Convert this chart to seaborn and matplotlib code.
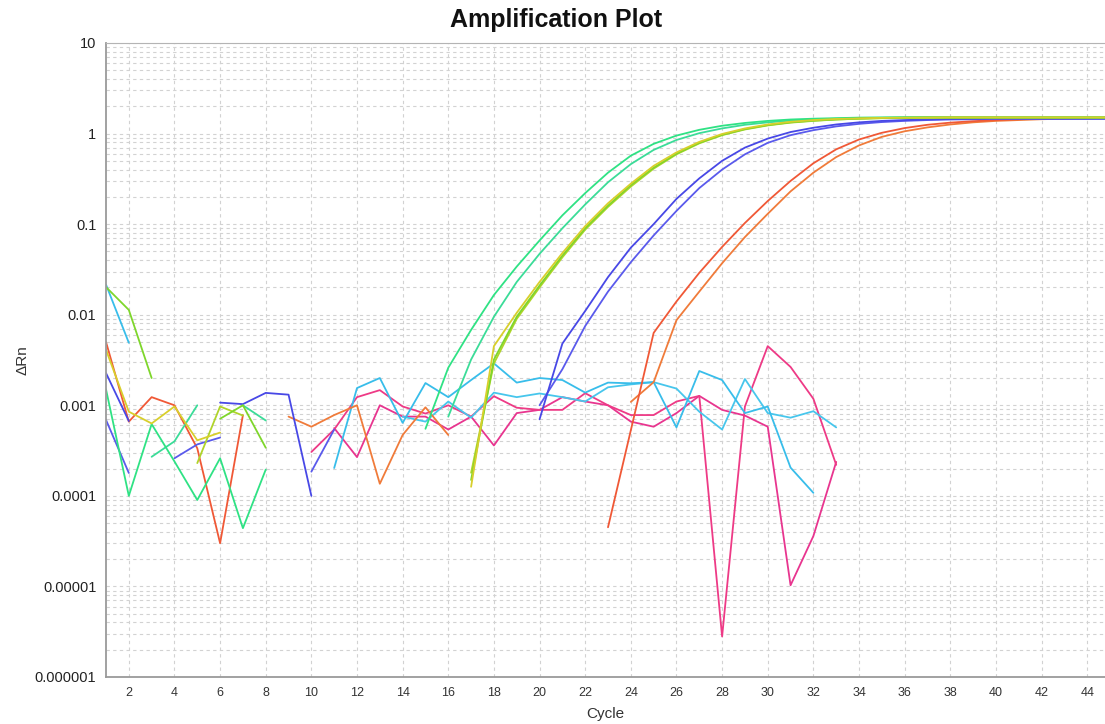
"""
qPCR amplification plot (ΔRn vs cycle, log scale)
"""

import matplotlib
matplotlib.use('Agg')
import matplotlib.pyplot as plt
import seaborn as sns
import numpy as np
import pandas as pd
from matplotlib.ticker import FixedLocator, FuncFormatter, NullFormatter

N = None  # gap (negative ΔRn, not drawn on a log axis)
cycles = list(range(1, 46))
x_ticks = list(range(2, 45, 2))
y_ticks = [1e-6, 1e-5, 1e-4, 1e-3, 1e-2, 1e-1, 1, 10]

# ---- per-well ΔRn, cycles 1..45 ----
sg1 = [0.0015, 0.0001, 0.00062, 0.00024, 0.00009, 0.00026, 0.000044, 0.000195, N, N,
       N, N, N, N, 0.00055, 0.0026, 0.0068, 0.0165, 0.034, 0.066,
       0.125, 0.22, 0.37, 0.57, 0.77, 0.95, 1.1, 1.22, 1.31, 1.38,
       1.43, 1.46, 1.48, 1.5, 1.51, 1.52, 1.52, 1.52, 1.52, 1.52,
       1.52, 1.52, 1.52, 1.52, 1.52]
sg2 = [N, N, 0.00027, 0.0004, 0.001, N, 0.001, 0.00068, N, N,
       N, N, N, N, N, 0.00075, 0.0032, 0.0095, 0.023, 0.047,
       0.09, 0.165, 0.29, 0.46, 0.66, 0.85, 1.01, 1.14, 1.25, 1.33,
       1.39, 1.43, 1.46, 1.48, 1.49, 1.5, 1.5, 1.5, 1.5, 1.5,
       1.5, 1.5, 1.5, 1.5, 1.5]
lime = [0.0202, 0.0113, 0.002, N, N, 0.00071, 0.001, 0.00034, N, N,
        N, N, N, N, N, N, 0.00015, 0.0032, 0.0095, 0.021,
        0.045, 0.09, 0.16, 0.27, 0.42, 0.6, 0.79, 0.97, 1.12, 1.24,
        1.33, 1.39, 1.43, 1.46, 1.48, 1.49, 1.5, 1.5, 1.5, 1.5,
        1.5, 1.5, 1.5, 1.5, 1.5]
yellow = [0.0041, 0.00085, 0.00063, 0.00097, 0.00041, 0.0005, N, N, N, N,
          N, N, N, N, N, N, 0.000126, 0.0045, 0.0105, 0.023,
          0.048, 0.095, 0.17, 0.28, 0.44, 0.62, 0.81, 0.99, 1.14, 1.26,
          1.35, 1.41, 1.45, 1.47, 1.49, 1.5, 1.5, 1.51, 1.51, 1.51,
          1.51, 1.51, 1.51, 1.51, 1.51]
ygreen = [N, N, N, N, 0.00023, 0.00097, 0.00077, N, N, N,
          N, N, N, N, N, N, 0.00018, 0.0029, 0.009, 0.02,
          0.043, 0.087, 0.155, 0.26, 0.41, 0.59, 0.78, 0.96, 1.11, 1.23,
          1.32, 1.38, 1.43, 1.46, 1.48, 1.49, 1.5, 1.5, 1.5, 1.5,
          1.5, 1.5, 1.5, 1.5, 1.5]
blue1 = [0.00227, 0.00067, N, N, N, 0.00107, 0.00103, 0.00137, 0.00131, 0.0001,
         N, N, N, N, N, N, N, N, N, 0.0007,
         0.0048, 0.011, 0.026, 0.055, 0.1, 0.19, 0.32, 0.5, 0.7, 0.88,
         1.04, 1.16, 1.26, 1.33, 1.38, 1.41, 1.43, 1.45, 1.46, 1.47,
         1.47, 1.47, 1.47, 1.47, 1.47]
blue2 = [0.00069, 0.000179, N, 0.00026, 0.00037, 0.00044, N, N, N, 0.000185,
         0.00054, N, N, N, N, N, N, N, N, 0.001,
         0.0025, 0.0075, 0.018, 0.038, 0.075, 0.14, 0.25, 0.4, 0.59, 0.79,
         0.96, 1.09, 1.2, 1.28, 1.34, 1.38, 1.41, 1.43, 1.44, 1.45,
         1.45, 1.45, 1.45, 1.45, 1.45]
red = [0.005, 0.00066, 0.00123, 0.001, 0.000335, 0.00003, 0.00078, N, N, N,
       N, N, N, N, N, N, N, N, N, N,
       N, N, 0.000045, 0.00053, 0.0063, 0.014, 0.029, 0.056, 0.103, 0.18,
       0.3, 0.47, 0.67, 0.86, 1.02, 1.15, 1.25, 1.32, 1.37, 1.41,
       1.44, 1.46, 1.47, 1.48, 1.49]
orange = [N, N, N, N, N, N, N, N, 0.00075, 0.00058,
          0.00078, 0.001, 0.000136, 0.00047, 0.00095, 0.00047, N, N, N, N,
          N, N, N, 0.00109, 0.0018, 0.0087, 0.018, 0.037, 0.072, 0.13,
          0.23, 0.37, 0.55, 0.74, 0.92, 1.06, 1.17, 1.26, 1.33, 1.38,
          1.41, 1.44, 1.46, 1.47, 1.48]
cyan1 = [0.0215, 0.0049, N, N, N, N, N, N, N, N,
         0.000203, 0.00155, 0.002, 0.00064, 0.00176, 0.00123, 0.0019, 0.0029, 0.00178, 0.002,
         0.0019, 0.00138, 0.00178, 0.00175, 0.0018, 0.00057, 0.00239, 0.0019, 0.00082, 0.00097,
         0.000205, 0.000108, N, N, N, N, N, N, N, N,
         N, N, N, N, N]
cyan2 = [N, N, N, N, N, N, N, N, N, N,
         N, N, N, 0.00075, 0.00066, 0.0011, 0.00073, 0.00138, 0.00123, 0.00135,
         0.00123, 0.0011, 0.00158, 0.0017, 0.0018, 0.00153, 0.00085, 0.00054, 0.00195, 0.00082,
         0.00073, 0.00086, 0.00057, N, N, N, N, N, N, N,
         N, N, N, N, N]
pink1 = [N, N, N, N, N, N, N, N, N, 0.000305,
         0.00054, 0.00123, 0.00147, 0.00097, 0.00081, 0.001, 0.00075, 0.00126, 0.00094, 0.00089,
         0.00089, 0.00136, 0.001, 0.00078, 0.00078, 0.0011, 0.00127, 0.0000028, 0.00097, 0.0045,
         0.00265, 0.00118, 0.00022, N, N, N, N, N, N, N,
         N, N, N, N, N]
pink2 = [N, N, N, N, N, N, N, N, N, N,
         0.00056, 0.000268, 0.001, 0.00075, 0.00075, 0.00054, 0.00075, 0.00036, 0.00082, 0.00089,
         0.00123, 0.0011, 0.001, 0.00066, 0.00058, 0.00082, 0.00127, 0.00089, 0.00077, 0.00058,
         0.0000103, 0.000036, 0.000237, N, N, N, N, N, N, N,
         N, N, N, N, N]

wells = {
    'A1': pink2, 'A2': pink1, 'A3': cyan2, 'A4': cyan1,
    'B1': orange, 'B2': red, 'B3': blue2, 'B4': blue1,
    'C1': sg2, 'C2': sg1, 'C3': ygreen, 'C4': lime, 'C5': yellow,
}
well_colors = {
    'A1': '#e8358f', 'A2': '#ee3a86', 'A3': '#47c6ec', 'A4': '#38bdea',
    'B1': '#f07b3a', 'B2': '#f05836', 'B3': '#5a5aec', 'B4': '#4848e6',
    'C1': '#3bdc98', 'C2': '#2fe284', 'C3': '#b0d42a', 'C4': '#7ed62b', 'C5': '#d8cf2c',
}

# 把每个孔拆成连续片段，断点处不连线
rows = []
for well, vals in wells.items():
    seg, inside = 0, False
    for c, v in zip(cycles, vals):
        if v is None:
            inside = False
            continue
        if not inside:
            seg += 1
            inside = True
        rows.append((well, f'{well}_{seg}', c, v))
df = pd.DataFrame(rows, columns=['well', 'seg', 'cycle', 'drn'])

sns.set_style('white')
plt.rcParams['font.family'] = ['Liberation Sans', 'DejaVu Sans']

fig = plt.figure(figsize=(11.05, 7.24), dpi=100)
ax = fig.add_axes([106 / 1105, 47 / 724, 999 / 1105, 634 / 724])
ax.set_yscale('log')

sns.lineplot(data=df, x='cycle', y='drn', hue='well', units='seg', estimator=None,
             palette=well_colors, legend=False, linewidth=1.3, sort=False, ax=ax)

ax.set_xlim(1, 44.78)
ax.set_ylim(1e-6, 10)
ax.xaxis.set_major_locator(FixedLocator(x_ticks))
ax.yaxis.set_major_locator(FixedLocator(y_ticks))
minor_y = [m * d for d in y_ticks[:-1] for m in range(2, 10)]
ax.yaxis.set_minor_locator(FixedLocator(minor_y))
ax.yaxis.set_minor_formatter(NullFormatter())
ax.yaxis.set_major_formatter(FuncFormatter(lambda v, p: np.format_float_positional(v, trim='-')))

grid_kw = dict(color='#d2d2d2', linestyle=(0, (3, 3)), linewidth=0.8)
ax.grid(which='major', axis='both', **grid_kw)
ax.grid(which='minor', axis='y', **grid_kw)
ax.set_axisbelow(True)

for side in ['left', 'bottom']:
    ax.spines[side].set_color('#9a9a9a')
    ax.spines[side].set_linewidth(1.3)
ax.spines['top'].set_color('#b4b4b4')
ax.spines['top'].set_linewidth(0.8)
ax.spines['right'].set_visible(False)

ax.tick_params(axis='y', which='major', length=4, width=1, color='#9a9a9a',
               labelsize=10.5, labelcolor='#222222', pad=3)
ax.tick_params(axis='y', which='minor', length=0)
ax.tick_params(axis='x', which='major', length=2, width=1, color='#9a9a9a',
               labelsize=9, labelcolor='#333333', pad=5)

ax.set_xlabel('Cycle', fontsize=11, color='#333333', labelpad=6)
ax.set_ylabel('ΔRn', fontsize=11, color='#333333', labelpad=4)
fig.text(0.503, 0.972, 'Amplification Plot', ha='center', va='center',
         fontsize=18, fontweight='bold', color='#111111')

fig.savefig('out.png', dpi=100)
